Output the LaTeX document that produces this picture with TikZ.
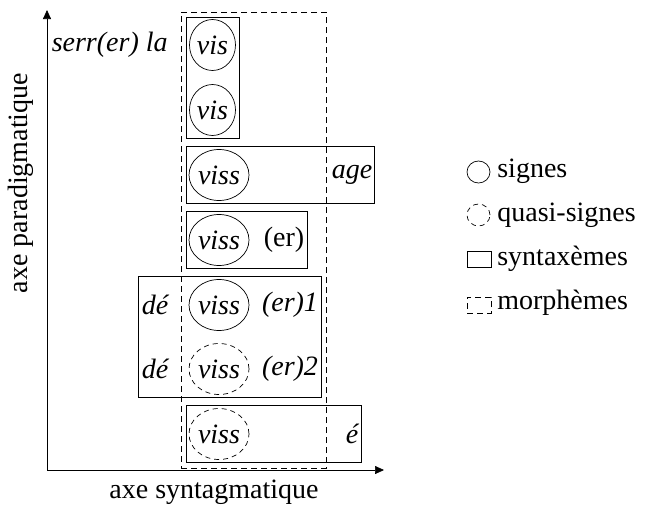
\documentclass[tikz,border=0pt]{standalone}
\usepackage{fontspec}
\setmainfont{Liberation Serif}
\usetikzlibrary{shapes.geometric,arrows.meta}
\newcommand{\figfont}{\fontsize{28}{32}\selectfont}
\begin{document}
\begin{tikzpicture}[x=1pt,y=-1pt,
  line width=0.7pt,
  every node/.style={font=\figfont},
  sign/.style={ellipse,draw,inner sep=0pt,minimum width=#1,minimum height=51pt,font=\figfont\itshape},
  qsign/.style={sign=#1,dash pattern=on 5pt off 4pt},
  synt/.style={rectangle,draw,inner sep=0pt},
  morph/.style={rectangle,draw,inner sep=0pt,dash pattern=on 6pt off 4pt},
  lbl/.style={font=\figfont\itshape,inner sep=0pt},
  legtext/.style={anchor=west,inner sep=0pt},
  axis/.style={-{Triangle[length=9pt,width=8pt]}}]
\useasboundingbox (0,0) rectangle (656,506);
% axes
\coordinate (O) at (47,470);
\coordinate (Ytip) at (47,10);
\coordinate (Xtip) at (384,470);
\draw[axis] (O) -- (Ytip);
\draw[axis] (O) -- (Xtip);
\node[rotate=90] (ylab) at (21,183) {axe paradigmatique};
\node (xlab) at (214,492) {axe syntagmatique};
% morpheme box
\node[morph,minimum width=145pt,minimum height=456pt] (m) at (253.5,240) {};
% syntaxemes
\node[synt,minimum width=53pt,minimum height=121pt] (r1) at (212.5,77.5) {};
\node[synt,minimum width=188pt,minimum height=57pt] (r2) at (280,174.5) {};
\node[synt,minimum width=121pt,minimum height=57pt] (r3) at (246.5,239.5) {};
\node[synt,minimum width=183pt,minimum height=121pt] (r4) at (229.5,336.5) {};
\node[synt,minimum width=175pt,minimum height=57pt] (r5) at (273.5,433.5) {};
% signs
\node[sign=46pt] (s1) at (212.5,45) {vis};
\node[sign=46pt] (s2) at (212.5,110) {vis};
\node[sign=60pt] (s3) at (219,175) {viss};
\node[sign=60pt] (s4) at (219,240) {viss};
\node[sign=60pt] (s5) at (219,305) {viss};
\node[qsign=60pt] (s6) at (219,369) {viss};
\node[qsign=60pt] (s7) at (219,434) {viss};
% labels
\node[lbl,anchor=east] (serr) at (168,45) {serr(er) la};
\node[lbl] (age) at (352,175) {age};
\node[inner sep=0pt] (er) at (284,240) {(er)};
\node[lbl] (de1) at (155,305) {dé};
\node[lbl] (de2) at (155,369) {dé};
\node[lbl] (er1) at (290,305) {(er)1};
\node[lbl] (er2) at (290,369) {(er)2};
\node[lbl] (e) at (352,434) {é};
% legend
\node[ellipse,draw,inner sep=0pt,minimum width=23pt,minimum height=22pt] (l1) at (478.5,172) {};
\node[ellipse,draw,inner sep=0pt,minimum width=23pt,minimum height=22pt,dash pattern=on 5pt off 4pt] (l2) at (478.5,215) {};
\node[synt,minimum width=24pt,minimum height=16pt] (l3) at (479,259) {};
\node[morph,minimum width=24pt,minimum height=16pt] (l4) at (479,305) {};
\node[legtext] (t1) at (497,171) {signes};
\node[legtext] (t2) at (497,215) {quasi-signes};
\node[legtext] (t3) at (497,259) {syntaxèmes};
\node[legtext] (t4) at (497,303) {morphèmes};
\end{tikzpicture}
\end{document}
